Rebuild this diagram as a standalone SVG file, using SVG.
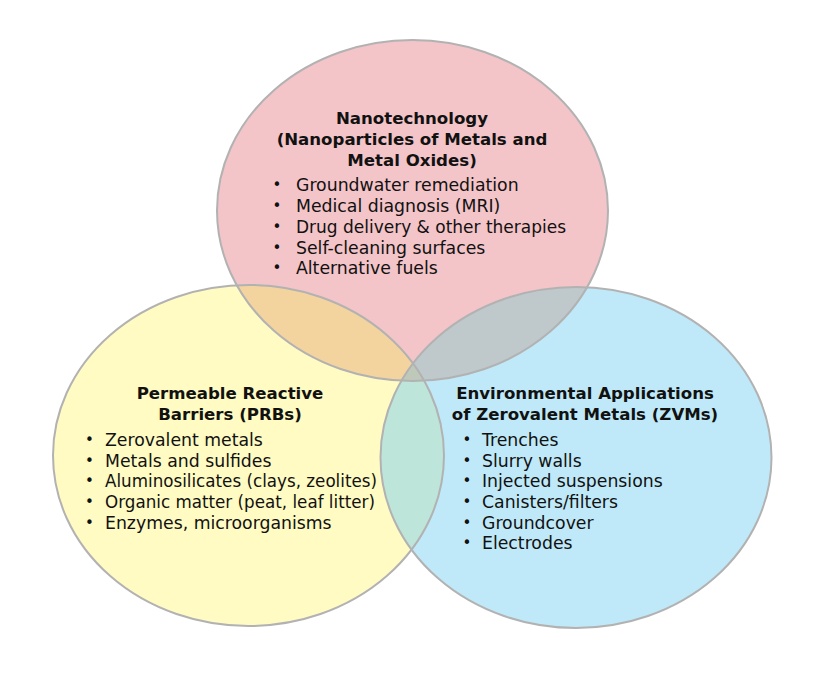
<svg xmlns="http://www.w3.org/2000/svg" width="826" height="675" viewBox="0 0 826 675">
<defs>
<style>
.t{font-family:"DejaVu Sans","Liberation Sans",sans-serif;fill:#111;}
.h{font-size:16.6px;font-weight:bold;}
.b{font-size:17.3px;}
.d{font-size:15px;}
.outline{fill:none;stroke:#b2b2b2;stroke-width:2;}
</style>
<clipPath id="cTop"><ellipse cx="412.5" cy="210.5" rx="195.5" ry="170.5"/></clipPath>
<clipPath id="cLeft"><ellipse cx="248.5" cy="455.5" rx="195.5" ry="170.5"/></clipPath>
</defs>
<rect width="826" height="675" fill="#fff"/>
<g id="nano">
<ellipse cx="412.5" cy="210.5" rx="195.5" ry="170.5" fill="#f3c4c8"/>
<text class="t h" text-anchor="middle"><tspan x="412" y="124">Nanotechnology</tspan><tspan x="412" y="145">(Nanoparticles of Metals and</tspan><tspan x="412" y="166">Metal Oxides)</tspan></text>
<text class="t d"><tspan x="272.5" y="190">•</tspan><tspan x="272.5" y="211">•</tspan><tspan x="272.5" y="232">•</tspan><tspan x="272.5" y="252.5">•</tspan><tspan x="272.5" y="273">•</tspan></text>
<text class="t b"><tspan x="296" y="191">Groundwater remediation</tspan><tspan x="296" y="212">Medical diagnosis (MRI)</tspan></text>
<text class="t b" x="296" y="233" textLength="270" lengthAdjust="spacingAndGlyphs">Drug delivery &amp; other therapies</text>
<text class="t b"><tspan x="296" y="253.5">Self-cleaning surfaces</tspan><tspan x="296" y="274">Alternative fuels</tspan></text>
</g>
<g id="prb">
<ellipse cx="248.5" cy="455.5" rx="195.5" ry="170.5" fill="#fffbc3"/>
<text class="t h" text-anchor="middle"><tspan x="230" y="399">Permeable Reactive</tspan><tspan x="230" y="420">Barriers (PRBs)</tspan></text>
<text class="t d"><tspan x="85" y="445">•</tspan><tspan x="85" y="465.7">•</tspan><tspan x="85" y="486.3">•</tspan><tspan x="85" y="507">•</tspan><tspan x="85" y="527.5">•</tspan></text>
<text class="t b"><tspan x="105" y="446">Zerovalent metals</tspan><tspan x="105" y="466.7">Metals and sulfides</tspan></text>
<text class="t b" x="105" y="487.3" textLength="272" lengthAdjust="spacingAndGlyphs">Aluminosilicates (clays, zeolites)</text>
<text class="t b" x="105" y="508" textLength="270" lengthAdjust="spacingAndGlyphs">Organic matter (peat, leaf litter)</text>
<text class="t b" x="105" y="528.5">Enzymes, microorganisms</text>
</g>
<g id="zvm">
<ellipse cx="576" cy="457.5" rx="195.5" ry="170.5" fill="#bfe9f8"/>
<text class="t h" text-anchor="middle"><tspan x="585" y="399">Environmental Applications</tspan><tspan x="585" y="420">of Zerovalent Metals (ZVMs)</tspan></text>
<text class="t d"><tspan x="462.5" y="445">•</tspan><tspan x="462.5" y="465.7">•</tspan><tspan x="462.5" y="486.3">•</tspan><tspan x="462.5" y="507">•</tspan><tspan x="462.5" y="527.7">•</tspan><tspan x="462.5" y="548.4">•</tspan></text>
<text class="t b"><tspan x="482" y="446">Trenches</tspan><tspan x="482" y="466.7">Slurry walls</tspan><tspan x="482" y="487.3">Injected suspensions</tspan><tspan x="482" y="508">Canisters/filters</tspan><tspan x="482" y="528.7">Groundcover</tspan><tspan x="482" y="549.4">Electrodes</tspan></text>
</g>
<g id="overlaps">
<ellipse cx="248.5" cy="455.5" rx="195.5" ry="170.5" fill="#f3d39e" clip-path="url(#cTop)"/>
<ellipse cx="576" cy="457.5" rx="195.5" ry="170.5" fill="#bfc8cb" clip-path="url(#cTop)"/>
<ellipse cx="576" cy="457.5" rx="195.5" ry="170.5" fill="#bee5d9" clip-path="url(#cLeft)"/>
<g clip-path="url(#cTop)"><ellipse cx="576" cy="457.5" rx="195.5" ry="170.5" fill="#bfc9ba" clip-path="url(#cLeft)"/></g>
</g>
<g id="connectors" class="outline">
<ellipse cx="412.5" cy="210.5" rx="195.5" ry="170.5"/>
<ellipse cx="248.5" cy="455.5" rx="195.5" ry="170.5"/>
<ellipse cx="576" cy="457.5" rx="195.5" ry="170.5"/>
</g>
</svg>
